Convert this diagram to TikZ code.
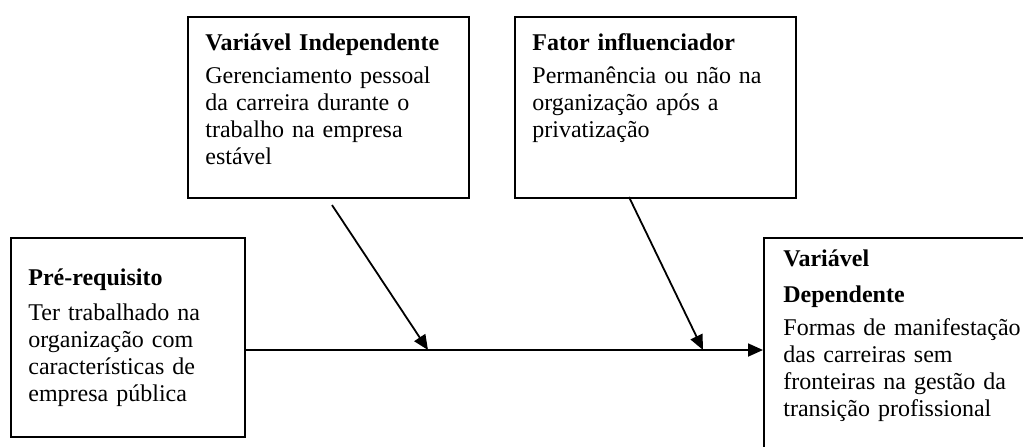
\documentclass[tikz,border=0pt]{standalone}
\usepackage{fontspec}
\setmainfont{Liberation Serif}
\usetikzlibrary{arrows.meta}
\begin{document}
\begin{tikzpicture}[x=0.5pt,y=-0.5pt,
  box/.style={draw, line width=1pt, inner sep=0pt, anchor=north west},
  txt/.style={anchor=base west, inner sep=0pt, align=left, text width=122pt,
    font=\fontsize{12pt}{13.5pt}\selectfont},
  conn/.style={line width=0.9pt, -{Triangle[length=7.5pt,width=6.5pt]}}]
\useasboundingbox (0,0) rectangle (1023,446);
\clip (0,0) rectangle (1023,446);
% boxes
\node[box, minimum width=117pt, minimum height=99.5pt] (A) at (10,237) {};
\node[box, minimum width=140.5pt, minimum height=90.5pt] (B) at (187,16) {};
\node[box, minimum width=140.5pt, minimum height=90.5pt] (C) at (514,16) {};
\node[box, minimum width=150pt, minimum height=120pt] (D) at (763,237) {};
% texts
\node[txt] (tA) at (28,285) {\textbf{Pré-requisito}\\[4pt]
Ter trabalhado na\\organização com\\características de\\empresa pública};
\node[txt] (tB) at (205,50) {\textbf{Variável Independente}\\[3pt]
Gerenciamento pessoal\\da carreira durante o\\trabalho na empresa\\estável};
\node[txt] (tC) at (532,50) {\textbf{Fator influenciador}\\[3pt]
Permanência ou não na\\organização após a\\privatização};
\node[txt] (tD) at (783,266) {\textbf{Variável}\\[4.5pt]\textbf{Dependente}\\[3pt]
Formas de manifestação\\das carreiras sem\\fronteiras na gestão da\\transição profissional};
% connectors
\coordinate (j1) at (428,350);
\coordinate (j2) at (703,350);
\coordinate (s1) at (332,205);
\coordinate (s2) at (629,197);
\draw[conn] (A.east |- j1) -- (D.west |- j1);
\draw[conn] (s1) -- (j1);
\draw[conn] (s2) -- (j2);
\end{tikzpicture}
\end{document}
